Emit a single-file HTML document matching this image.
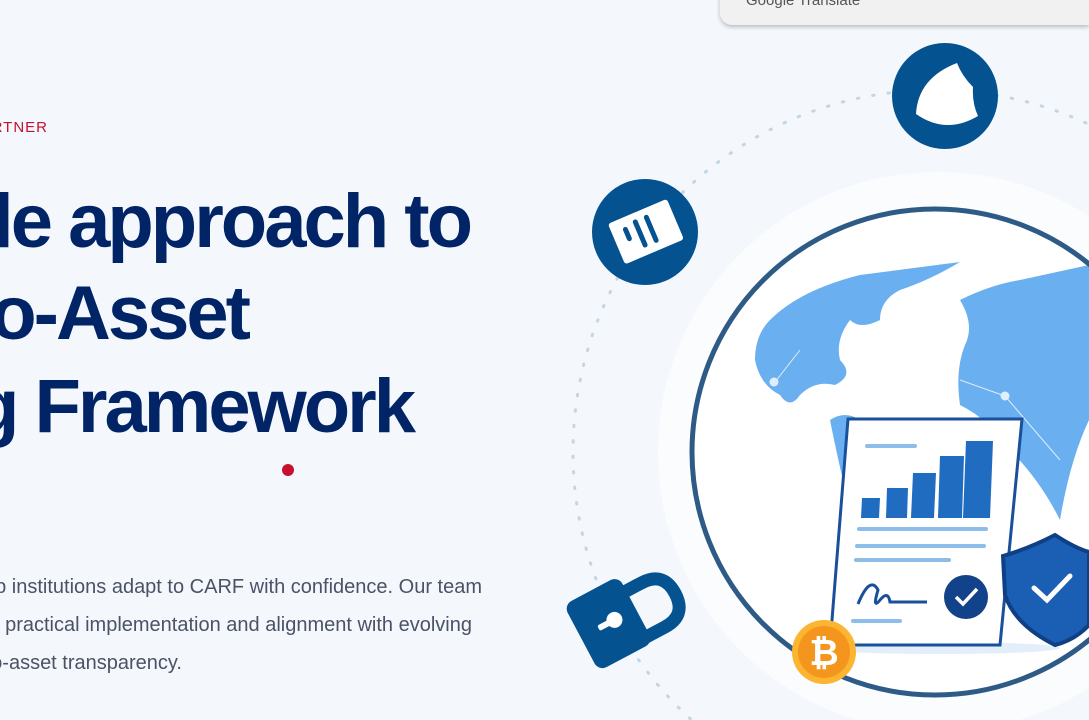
<!DOCTYPE html>
<html><head><meta charset="utf-8"><style>
html,body{margin:0;padding:0;width:1089px;height:720px;overflow:hidden}
body{background:#f4f8fd;position:relative;font-family:"Liberation Sans",sans-serif}
.r{position:absolute;white-space:nowrap;text-align:right}
.h{font-weight:bold;color:#002466;font-size:76px;letter-spacing:-3px;line-height:1}
.p{color:#4b5266;font-size:20px;line-height:1}
</style></head><body>
<div class="r" style="right:1041px;top:119px;color:#c8102e;font-size:15px;letter-spacing:1px">PARTNER</div>
<div class="r h" style="right:619px;top:184px">Sustainable approach to</div>
<div class="r h" style="right:841px;top:276px">Crypto-Asset</div>
<div class="r h" style="right:676px;top:369px">Reporting Framework</div>
<div style="position:absolute;left:282px;top:464px;width:12px;height:12px;border-radius:50%;background:#c8102e"></div>
<div class="r p" style="right:607px;top:577px">We help institutions adapt to CARF with confidence. Our team</div>
<div class="r p" style="right:617px;top:615px">supports practical implementation and alignment with evolving</div>
<div class="r p" style="right:907px;top:653px">standards for crypto-asset transparency.</div>

<div style="position:absolute;left:720px;top:-30px;width:369px;height:55px;background:#f1f1f1;border-radius:0 0 0 12px;box-shadow:0 2px 4px rgba(0,0,0,.25);overflow:hidden">
<div style="position:absolute;left:26px;top:22px;color:#555;font-size:15px">Google Translate</div></div>

<svg width="1089" height="720" style="position:absolute;left:0;top:0" viewBox="0 0 1089 720">
<defs><clipPath id="g"><circle cx="935" cy="452" r="243"/></clipPath></defs>
<circle cx="935" cy="452" r="362" fill="none" stroke="#c3d6e6" stroke-width="3" stroke-dasharray="1.5 14" stroke-linecap="round"/>
<circle cx="938" cy="452" r="280" fill="#fbfcfe"/>
<circle cx="935" cy="452" r="243" fill="#fff"/>
<g clip-path="url(#g)" fill="#6aaff0">
<path d="M770 320 Q800 290 860 275 L960 262 Q930 280 900 290 Q880 300 880 320 Q860 330 850 320 Q835 340 840 360 Q855 375 835 385 Q815 380 800 395 Q790 410 780 395 Q760 385 755 360 Q755 335 770 320Z"/>
<path d="M830 420 Q845 410 860 420 L848 500 Q840 470 830 420Z"/>
<path d="M960 300 Q990 285 1020 280 L1089 265 L1089 420 Q1070 460 1060 520 Q1040 480 1010 450 Q990 420 960 405 Q955 370 965 345 Q975 325 960 300Z"/>
</g>
<g stroke="#dfeefc" stroke-width="1" fill="#dfeefc"><line x1="775" y1="382" x2="800" y2="350"/><line x1="1005" y1="396" x2="1060" y2="460"/><line x1="960" y1="380" x2="1005" y2="396"/><circle cx="774" cy="382" r="4"/><circle cx="1005" cy="396" r="4"/></g>
<circle cx="935" cy="452" r="243" fill="none" stroke="#2e5a86" stroke-width="5"/>
<ellipse cx="940" cy="648" rx="120" ry="6" fill="#e2eefa"/>
<polygon points="848,419 1022,419 1000,645 830,645" fill="#fff" stroke="#1a4f9c" stroke-width="3"/>
<g fill="#1f6cc0"><polygon points="862,498 880,498 879,518 861,518"/><polygon points="887,488 908,488 907,518 886,518"/><polygon points="913,473 936,473 934,518 911,518"/><polygon points="940,456 964,456 962,518 938,518"/><polygon points="966,441 993,441 990,518 963,518"/></g>
<g stroke="#8dbde9" stroke-width="4" stroke-linecap="round"><line x1="867" y1="446" x2="915" y2="446"/><line x1="859" y1="529" x2="986" y2="529"/><line x1="857" y1="546" x2="984" y2="546"/><line x1="856" y1="560" x2="949" y2="560"/><line x1="853" y1="621" x2="900" y2="621"/></g>
<path d="M858 604 Q870 575 878 590 Q872 610 880 600 Q888 590 890 602 L927 602" fill="none" stroke="#1a4f9c" stroke-width="3"/>
<circle cx="966" cy="597" r="22" fill="#12428a"/><path d="M956 597 L963 604 L977 589" fill="none" stroke="#fff" stroke-width="3.5"/>
<path d="M1003 556 Q1030 548 1055 535 Q1075 548 1089 552 L1089 625 Q1075 640 1055 645 Q1015 625 1005 595Z" fill="#1a5fb4" stroke="#0f3f85" stroke-width="4"/>
<path d="M1034 588 L1047 600 L1070 576" fill="none" stroke="#fff" stroke-width="5" stroke-linecap="round"/>
<circle cx="824" cy="652" r="32" fill="#fbb531"/><circle cx="824" cy="652" r="26" fill="#f4961e"/>
<text x="824" y="665" text-anchor="middle" fill="#fff" font-size="36" font-weight="bold" font-family="Liberation Sans,sans-serif">₿</text>
<circle cx="945" cy="96" r="53" fill="#04528f"/>
<path d="M916 114 Q918 78 957 63 Q962 76 973 87 Q972 103 978 116 Q946 135 916 114Z" fill="#fff"/>
<circle cx="645" cy="232" r="53" fill="#04528f"/>
<g transform="rotate(-23 645 232)"><rect x="614" y="210" width="64" height="44" rx="3" fill="#fff"/><g stroke="#04528f" stroke-width="5" stroke-linecap="round"><line x1="628" y1="222" x2="628" y2="232"/><line x1="640" y1="219" x2="640" y2="244"/><line x1="652" y1="219" x2="652" y2="244"/></g></g>
<g transform="rotate(62 610 620)">
<path d="M592 600 L592 575 Q592 550 617 550 Q642 550 642 575 L642 600" fill="none" stroke="#04528f" stroke-width="13"/>
<rect x="575" y="592" width="75" height="62" rx="9" fill="#04528f"/>
<circle cx="612" cy="616" r="8" fill="#fff"/><rect x="609" y="616" width="6" height="18" rx="2" fill="#fff"/>
</g>
</svg>
</body></html>
